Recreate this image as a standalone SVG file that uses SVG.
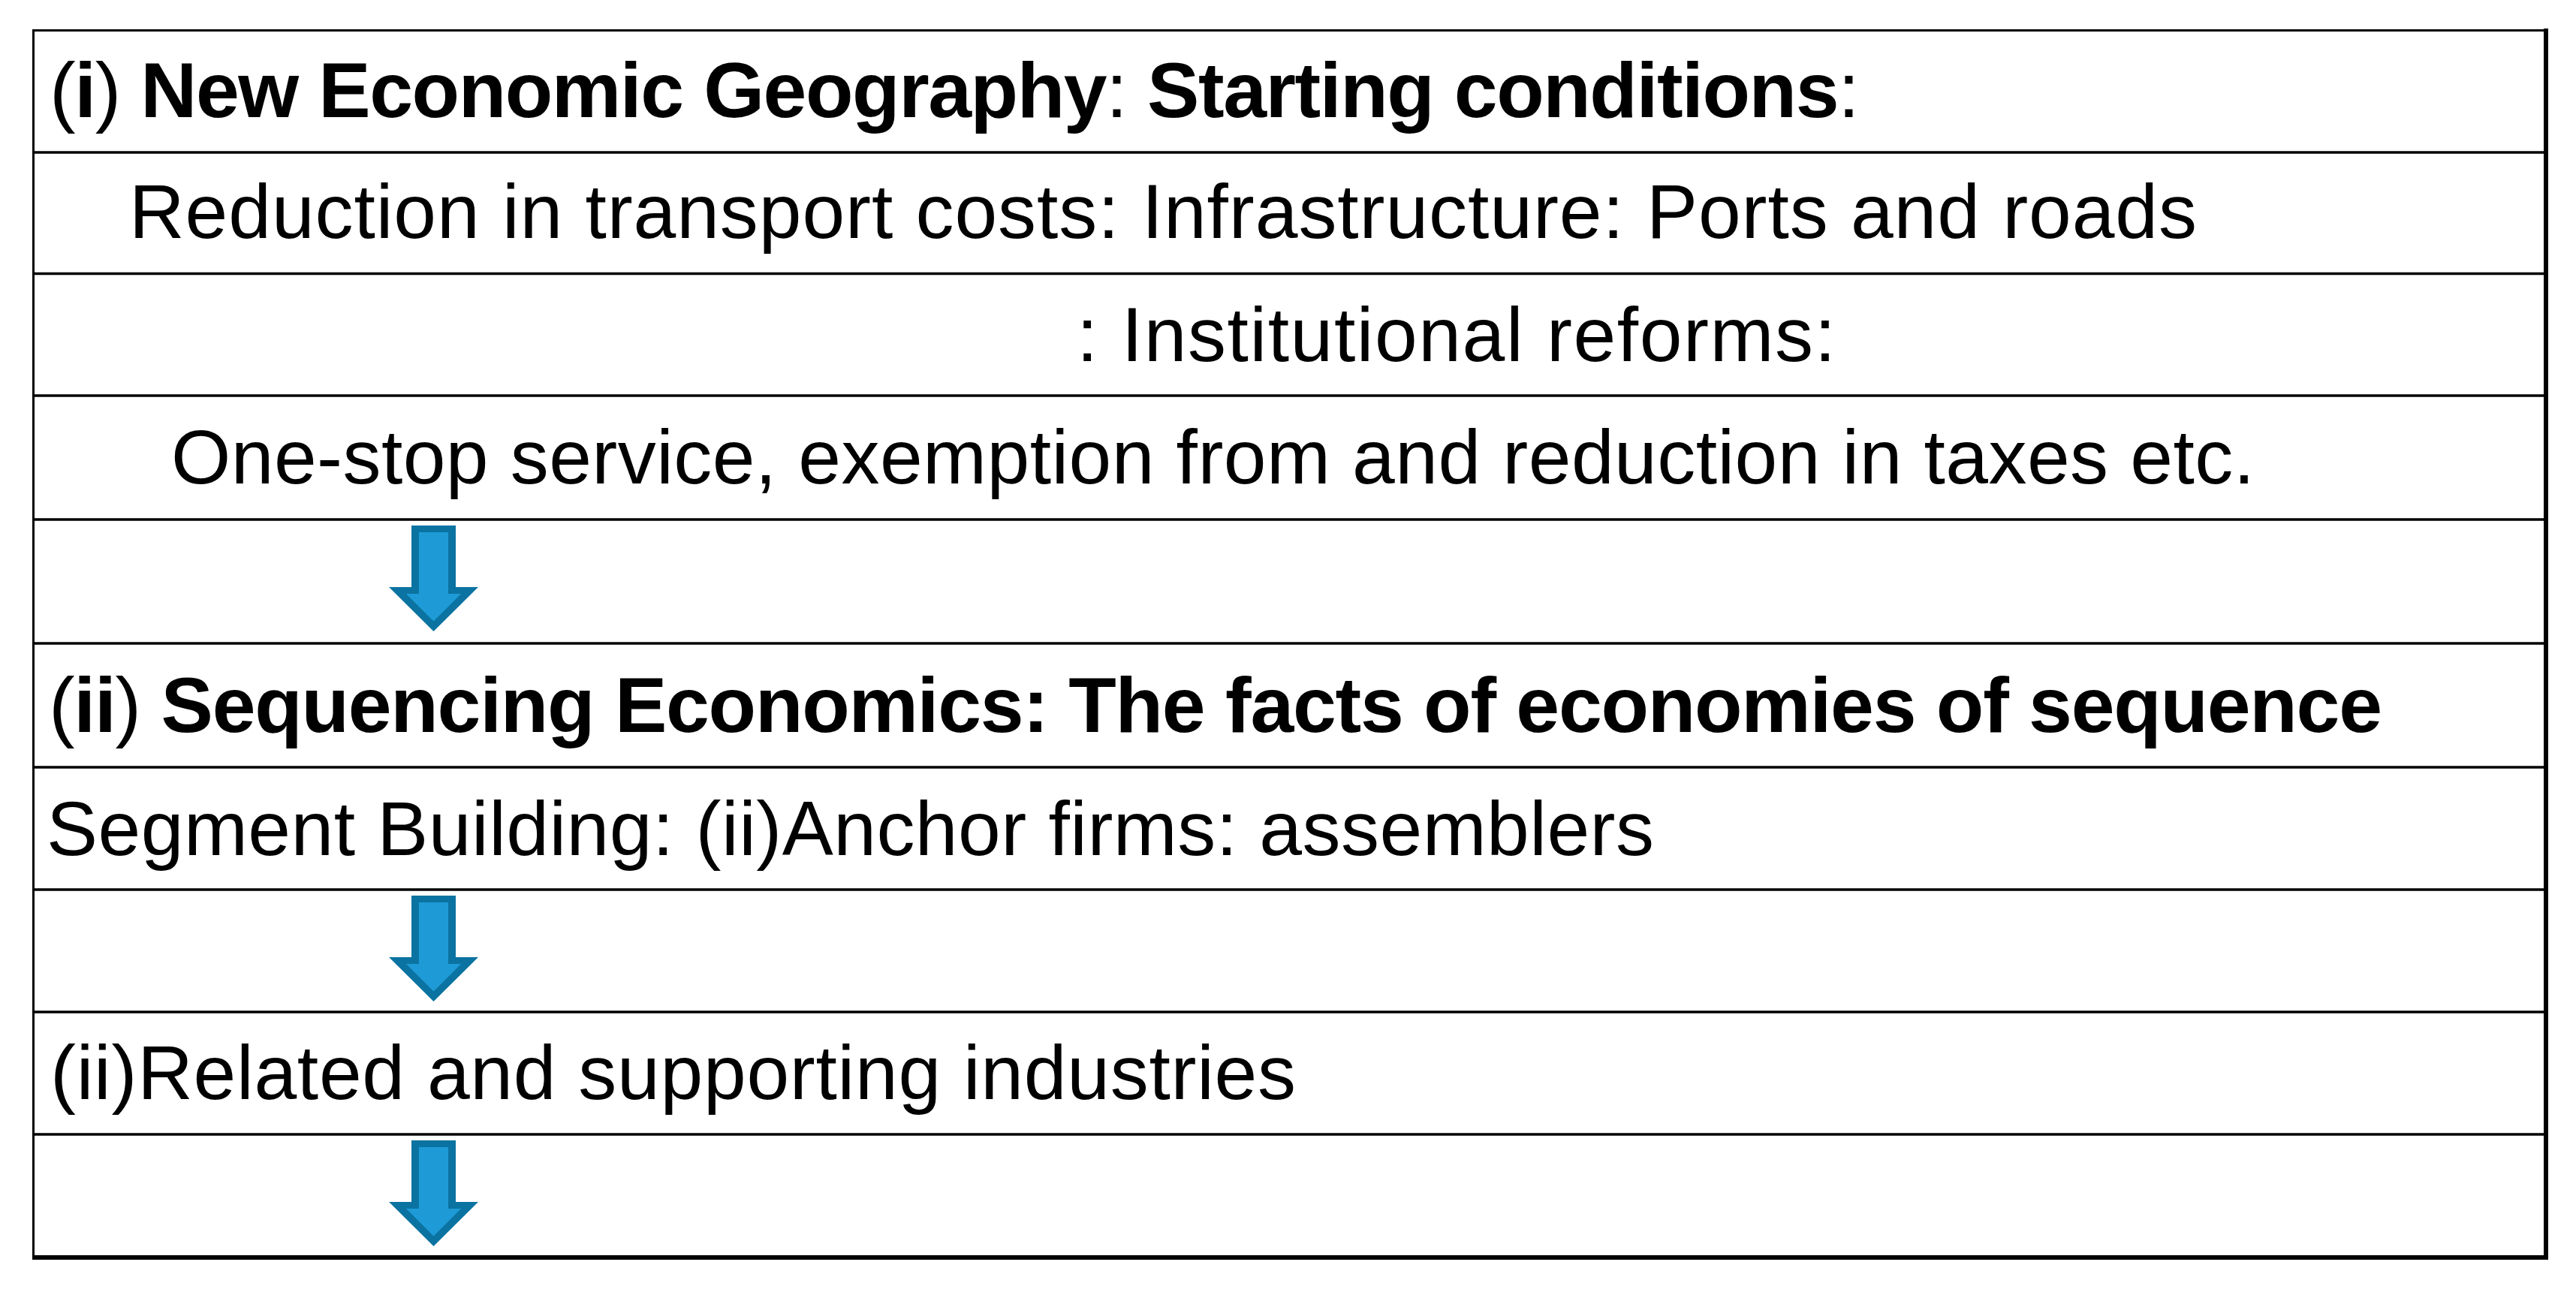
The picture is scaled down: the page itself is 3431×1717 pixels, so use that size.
<svg xmlns="http://www.w3.org/2000/svg" xmlns:xlink="http://www.w3.org/1999/xlink" width="3431" height="1717" viewBox="0 0 3431 1717">
  <style>
    .grid { stroke: #000; stroke-width: 3.7; fill: none; }
    .edge-thin { stroke: #000; stroke-width: 3; fill: none; }
    .edge-thick { stroke: #000; stroke-width: 6; fill: none; }
    .t { font-family: "Liberation Sans", Arial, sans-serif; font-size: 102px; fill: #000; }
    .b { font-weight: bold; font-size: 104px; }
    .n { font-weight: normal; }
    .arrow-out { fill: #0B73A1; }
    .arrow-in { fill: #1E9BD7; }
  </style>
  <defs>
    <g id="downArrow">
      <polygon class="arrow-out" points="548,700 607,700 607,782 637,782 577.5,841 518,782 548,782"/>
      <polygon class="arrow-in" points="558,709 597,709 597,791 614,791 577.5,827.5 541,791 558,791"/>
    </g>
  </defs>
  <rect x="0" y="0" width="3431" height="1717" fill="#fff"/>

  <g id="table-grid">
    <line class="grid" x1="44.5" y1="203" x2="3391" y2="203"/>
    <line class="grid" x1="44.5" y1="364.5" x2="3391" y2="364.5"/>
    <line class="grid" x1="44.5" y1="527" x2="3391" y2="527"/>
    <line class="grid" x1="44.5" y1="692" x2="3391" y2="692"/>
    <line class="grid" x1="44.5" y1="857" x2="3391" y2="857"/>
    <line class="grid" x1="44.5" y1="1022" x2="3391" y2="1022"/>
    <line class="grid" x1="44.5" y1="1185" x2="3391" y2="1185"/>
    <line class="grid" x1="44.5" y1="1348" x2="3391" y2="1348"/>
    <line class="grid" x1="44.5" y1="1511" x2="3391" y2="1511"/>
    <line class="edge-thin" x1="43" y1="40.5" x2="3394" y2="40.5"/>
    <line class="edge-thin" x1="44.5" y1="39" x2="44.5" y2="1678"/>
    <line class="edge-thick" x1="3391" y1="38" x2="3391" y2="1678"/>
    <line class="edge-thick" x1="43" y1="1675" x2="3394" y2="1675"/>
  </g>

  <g id="row1-new-economic-geography">
    <text class="t b" x="66" y="156" textLength="2411" lengthAdjust="spacing"><tspan class="n">(</tspan>i<tspan class="n">)</tspan> New Economic Geography<tspan class="n">:</tspan> Starting conditions<tspan class="n">:</tspan></text>
  </g>
  <g id="row2-transport-costs">
    <text class="t" x="172" y="317" textLength="2754" lengthAdjust="spacing">Reduction in transport costs: Infrastructure: Ports and roads</text>
  </g>
  <g id="row3-institutional-reforms">
    <text class="t" x="1434" y="481" textLength="1011" lengthAdjust="spacing">: Institutional reforms:</text>
  </g>
  <g id="row4-one-stop-service">
    <text class="t" x="228" y="644" textLength="2775" lengthAdjust="spacing">One-stop service, exemption from and reduction in taxes etc.</text>
  </g>
  <g id="row6-sequencing-economics">
    <text class="t b" x="65" y="974.5" textLength="3108" lengthAdjust="spacing"><tspan class="n">(</tspan>ii<tspan class="n">)</tspan> Sequencing Economics: The facts of economies of sequence</text>
  </g>
  <g id="row7-segment-building">
    <text class="t" x="62" y="1138.5" textLength="2141" lengthAdjust="spacing">Segment Building: (ii)Anchor firms: assemblers</text>
  </g>
  <g id="row9-related-industries">
    <text class="t" x="67" y="1464" textLength="1659" lengthAdjust="spacing">(ii)Related and supporting industries</text>
  </g>

  <g id="connectors">
    <use xlink:href="#downArrow" href="#downArrow"/>
    <use xlink:href="#downArrow" href="#downArrow" transform="translate(0,493)"/>
    <use xlink:href="#downArrow" href="#downArrow" transform="translate(0,819)"/>
  </g>
</svg>
